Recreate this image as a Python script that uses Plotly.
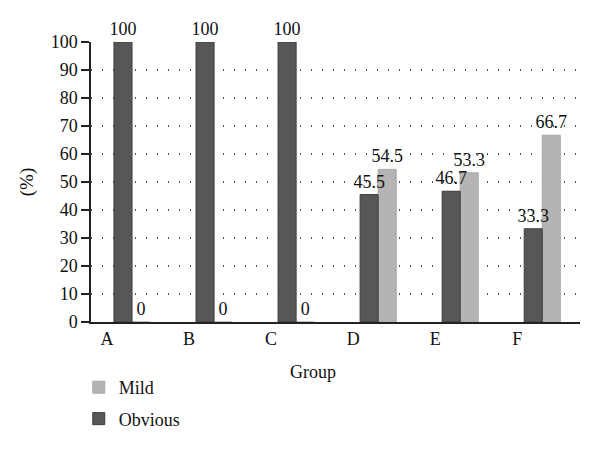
import plotly.graph_objects as go

groups = ["A", "B", "C", "D", "E", "F"]
obvious = [100, 100, 100, 45.5, 46.7, 33.3]
mild = [0, 0, 0, 54.5, 53.3, 66.7]
obvious_text = ["100", "100", "100", "45.5", "46.7", "33.3"]
mild_text = ["0", "0", "0", "54.5", "53.3", "66.7"]
y_ticks = list(range(0, 101, 10))

FONT = "Liberation Serif"
BAR_W = 0.22

fig = go.Figure()
# Mild drawn first so that Obvious labels sit on top of it
fig.add_trace(go.Bar(
    name="Mild", x=groups, y=mild, text=mild_text, legendgroup="m",
    width=BAR_W, offset=0,
    textposition="outside", cliponaxis=False, constraintext="none",
    marker=dict(color="#b4b4b4", line=dict(color="#a8a8a8", width=1)),
    textfont=dict(family=FONT, size=18, color="#111111"),
    outsidetextfont=dict(family=FONT, size=18, color="#111111"),
))
fig.add_trace(go.Bar(
    name="Obvious", x=groups, y=obvious, text=obvious_text, legendgroup="o",
    width=BAR_W, offset=-BAR_W,
    textposition="outside", cliponaxis=False, constraintext="none",
    marker=dict(color="#575757", line=dict(color="#3c3c3c", width=1)),
    textfont=dict(family=FONT, size=18, color="#111111"),
    outsidetextfont=dict(family=FONT, size=18, color="#111111"),
))

fig.update_layout(
    width=600, height=451,
    margin=dict(l=83, r=28, t=34, b=137, autoexpand=False),
    paper_bgcolor="white", plot_bgcolor="white",
    barmode="overlay",
    font=dict(family=FONT, size=18, color="#111111"),
    showlegend=True,
    legend=dict(
        traceorder="grouped", x=-0.025, xanchor="left", y=-0.168, yanchor="top",
        font=dict(family=FONT, size=18), itemwidth=30, tracegroupgap=5,
        bgcolor="rgba(0,0,0,0)",
    ),
    annotations=[dict(
        text="Group", xref="paper", yref="paper", x=0.454, y=-0.18,
        xanchor="center", yanchor="middle", showarrow=False,
        font=dict(family=FONT, size=18, color="#111111"),
    )],
)
fig.update_xaxes(
    type="category", range=[-0.5, 5.46], automargin=False,
    showline=True, linecolor="#222222", linewidth=1.5,
    ticks="", showgrid=False, ticklabelshift=-25,
    tickfont=dict(family=FONT, size=18),
)
fig.update_yaxes(
    range=[0, 100], tickvals=y_ticks, automargin=False,
    showline=True, linecolor="#222222", linewidth=1.5,
    ticks="outside", ticklen=8, tickcolor="#222222", tickwidth=1.5,
    showgrid=True, gridcolor="#555555", gridwidth=1.5, griddash="1px,10px",
    zeroline=False,
    tickfont=dict(family=FONT, size=18),
    title=dict(text="(%)", font=dict(family=FONT, size=19), standoff=12),
)

fig.write_html("out.html")
